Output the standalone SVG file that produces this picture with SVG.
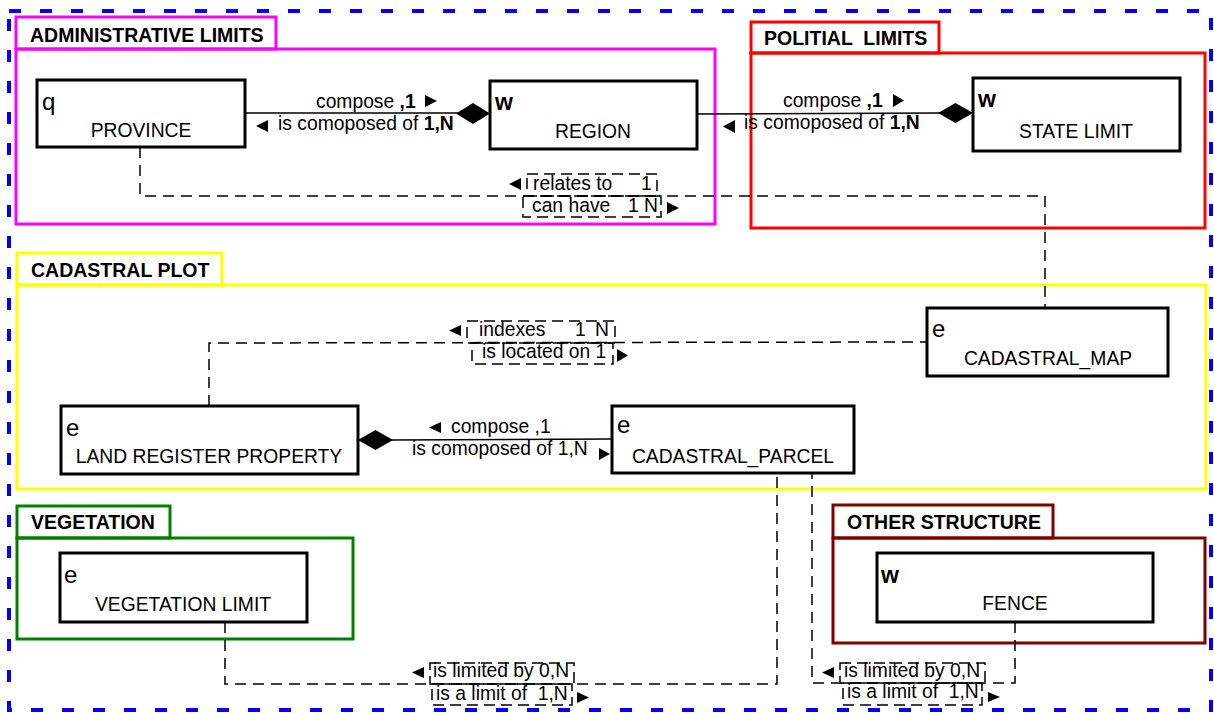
<svg xmlns="http://www.w3.org/2000/svg" width="1214" height="713" viewBox="0 0 1214 713">
<style>
text{font-family:"Liberation Sans",Arial,sans-serif;font-size:19.3px;fill:#000;white-space:pre}
.title{font-weight:bold;font-size:19.5px}
.b{font-weight:bold}
.ltr{font-size:24px}
.w{font-size:23px;font-weight:bold}
.node{fill:#fff;stroke:#000;stroke-width:3}
.conn{fill:none;stroke:#000;stroke-width:1.5}
.dash{fill:none;stroke:#000;stroke-width:1.5;stroke-dasharray:11 7}
.lbox{fill:none;stroke:#000;stroke-width:1.5;stroke-dasharray:11 6}
.tri,.dia{fill:#000;stroke:none}
.grp{fill:none;stroke-width:3}
</style>
<rect width="1214" height="713" fill="#fff"/>
<rect x="9" y="11" width="1202" height="699" fill="none" stroke="#0000ff" stroke-width="4" stroke-dasharray="12 19"/>

<g id="grp-admin">
<rect class="grp" x="16" y="17" width="260" height="32" stroke="#ff00ff"/>
<rect class="grp" x="16" y="49" width="699" height="175" stroke="#ff00ff"/>
<text class="title" x="30" y="42">ADMINISTRATIVE LIMITS</text>
</g>
<g id="grp-political">
<rect class="grp" x="751" y="22" width="188" height="31" stroke="#ff0000"/>
<rect class="grp" x="751" y="53" width="454" height="175" stroke="#ff0000"/>
<text class="title" x="764" y="45" xml:space="preserve">POLITIAL  LIMITS</text>
</g>
<g id="grp-cadastral">
<rect class="grp" x="17" y="253" width="205" height="32" stroke="#ffff00"/>
<rect class="grp" x="17" y="285" width="1189" height="204" stroke="#ffff00"/>
<text class="title" x="31" y="277">CADASTRAL PLOT</text>
</g>
<g id="grp-vegetation">
<rect class="grp" x="17" y="506" width="153" height="32" stroke="#008000"/>
<rect class="grp" x="17" y="538" width="336" height="101" stroke="#008000"/>
<text class="title" x="31" y="529">VEGETATION</text>
</g>
<g id="grp-other">
<rect class="grp" x="833" y="505" width="220" height="33" stroke="#800000"/>
<rect class="grp" x="833" y="538" width="372" height="105" stroke="#800000"/>
<text class="title" x="847" y="529">OTHER STRUCTURE</text>
</g>

<g id="connectors">
<line class="conn" x1="245" y1="113" x2="458" y2="113"/>
<polygon class="dia" points="456,113.5 473,103 490,113.5 473,124"/>
<text x="316" y="108">compose <tspan class="b">,1</tspan></text>
<polygon class="tri" points="425,95 437,101 425,107"/>
<polygon class="tri" points="268,120 256,126 268,132"/>
<text x="278" y="129.5">is comoposed of <tspan class="b">1,N</tspan></text>

<line class="conn" x1="697" y1="114" x2="940" y2="113"/>
<polygon class="dia" points="938,113 955.5,103 973,113 955.5,123"/>
<text x="783" y="107">compose <tspan class="b">,1</tspan></text>
<polygon class="tri" points="893,94 904,100.5 893,107"/>
<polygon class="tri" points="735,120 723,126.5 735,133"/>
<text x="744" y="129">is comoposed of <tspan class="b">1,N</tspan></text>

<polyline class="dash" points="140,147 140,196 1045,196 1045,308"/>
<rect class="lbox" x="527" y="174" width="130" height="22"/>
<rect class="lbox" x="523" y="196" width="138" height="21"/>
<polygon class="tri" points="521,178 509,184 521,190"/>
<text x="533" y="190">relates to</text>
<text x="641" y="190">1</text>
<text x="532" y="212">can have</text>
<text x="628" y="212">1 N</text>
<polygon class="tri" points="667,202 679,208 667,214"/>

<polyline class="dash" points="209,406 209,343 927,342"/>
<rect class="lbox" x="467" y="321" width="148" height="22"/>
<rect class="lbox" x="472" y="343" width="141" height="21"/>
<polygon class="tri" points="461,325 449,330.5 461,336"/>
<text x="479" y="336">indexes</text>
<text x="575" y="336">1</text>
<text x="595" y="336">N</text>
<text x="482" y="358">is located on 1</text>
<polygon class="tri" points="617,349 628,355.5 617,362"/>

<line class="conn" x1="391" y1="440" x2="612" y2="439"/>
<polygon class="dia" points="358,440 375.5,430 393,440 375.5,450"/>
<polygon class="tri" points="441,422 429,427.5 441,433"/>
<text x="451" y="433">compose ,1</text>
<text x="412" y="455">is comoposed of 1,N</text>
<polygon class="tri" points="599,448 610,454 599,460"/>

<polyline class="dash" points="225,622 225,684 777,684 777,473"/>
<rect class="lbox" x="430" y="663" width="144" height="21"/>
<rect class="lbox" x="432" y="684" width="140" height="21"/>
<polygon class="tri" points="424,667 412,672.5 424,678"/>
<text x="433" y="677">is limited by 0,N</text>
<text x="436" y="700" xml:space="preserve">is a limit of  1,N</text>
<polygon class="tri" points="577,692 589,697.5 577,703"/>

<polyline class="dash" points="1015,622 1015,683 812,683 812,473"/>
<rect class="lbox" x="840" y="663" width="145" height="20"/>
<rect class="lbox" x="843" y="683" width="139" height="22"/>
<polygon class="tri" points="834,667 822,672.5 834,678"/>
<text x="844" y="677">is limited by 0,N</text>
<text x="847" y="698" xml:space="preserve">is a limit of  1,N</text>
<polygon class="tri" points="988,692 1000,697 988,702"/>
</g>

<g id="node-province">
<rect class="node" x="37" y="80" width="208" height="67"/>
<text class="ltr" x="42" y="110">q</text>
<text x="141" y="137" text-anchor="middle">PROVINCE</text>
</g>
<g id="node-region">
<rect class="node" x="490" y="81" width="207" height="68"/>
<text class="w" x="495" y="110">w</text>
<text x="593" y="138" text-anchor="middle">REGION</text>
</g>
<g id="node-state-limit">
<rect class="node" x="973" y="78" width="207" height="73"/>
<text class="w" x="978" y="107">w</text>
<text x="1076" y="138" text-anchor="middle">STATE LIMIT</text>
</g>
<g id="node-cadastral-map">
<rect class="node" x="927" y="308" width="241" height="68"/>
<text class="ltr" x="932" y="337">e</text>
<text x="1048" y="365" text-anchor="middle">CADASTRAL_MAP</text>
</g>
<g id="node-land-register">
<rect class="node" x="61" y="406" width="297" height="68"/>
<text class="ltr" x="66" y="436">e</text>
<text x="209" y="463" text-anchor="middle">LAND REGISTER PROPERTY</text>
</g>
<g id="node-cadastral-parcel">
<rect class="node" x="612" y="406" width="242" height="67"/>
<text class="ltr" x="617" y="433">e</text>
<text x="733" y="463" text-anchor="middle">CADASTRAL_PARCEL</text>
</g>
<g id="node-vegetation-limit">
<rect class="node" x="60" y="553" width="247" height="69"/>
<text class="ltr" x="64" y="583">e</text>
<text x="183" y="611" text-anchor="middle">VEGETATION LIMIT</text>
</g>
<g id="node-fence">
<rect class="node" x="877" y="553" width="276" height="69"/>
<text class="w" x="881" y="583">w</text>
<text x="1015" y="610" text-anchor="middle">FENCE</text>
</g>
</svg>
